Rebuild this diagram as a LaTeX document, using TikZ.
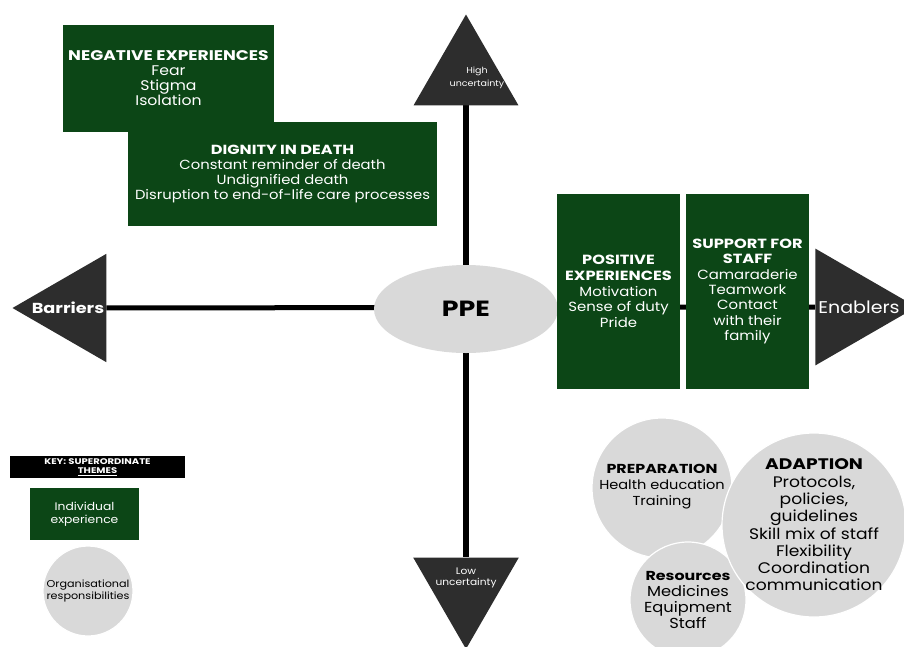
\documentclass[tikz,border=0pt]{standalone}
\usepackage{fontspec}
\setmainfont{Poppins}[FakeStretch=1.12, BoldFeatures={FakeStretch=1.22}]
\usetikzlibrary{positioning, shapes, backgrounds}

\definecolor{themegreen}{RGB}{12,70,22}
\definecolor{darkpointer}{RGB}{45,45,45}
\definecolor{orggray}{RGB}{217,217,217}

\tikzset{
	themebox/.style={rectangle, fill=themegreen, text=white, align=center, inner sep=0pt},
	orgcircle/.style={circle, draw=white, line width=1.2pt, fill=orggray, inner sep=0pt},
	orgtext/.style={text=black, align=center},
	pointer/.style={regular polygon, regular polygon sides=3, fill=darkpointer, inner sep=0pt},
	pointertext/.style={text=white, align=center},
	axisline/.style={line width=5pt, black}
}

\begin{document}
\begin{tikzpicture}[x=1pt, y=-1pt]
		\useasboundingbox (0,0) rectangle (904,646);
		
		%Direction nodes
		\node [pointer, minimum size=121pt, 
		label={[pointertext, font=\fontsize{8.5}{13}\selectfont, xshift=11pt, yshift=-3pt]center:High\\uncertainty}] 
		(high) at (466,75) {};
		
		\node [pointer, minimum size=122pt, shape border rotate=180, 
		label={[pointertext, font=\fontsize{9.5}{11}\selectfont, yshift=10pt]center:Low\\uncertainty}] 
		(low) at (466,588) {};
		
		\node [pointer, minimum size=125pt, shape border rotate=90, 
		label={[pointertext, font=\fontsize{14.5}{16}\selectfont\bfseries, xshift=-7pt]center:Barriers}] 
		(barriers) at (75,308) {};
		
		\node [pointer, minimum size=135pt, shape border rotate=270, 
		label={[pointertext, font=\fontsize{17}{19}\selectfont, xshift=10pt]center:Enablers}] 
		(enablers) at (849,307) {};
		
		\node [ellipse, fill=orggray, minimum width=184pt, minimum height=88pt, 
		font=\fontsize{22}{24}\selectfont\bfseries] (ppe) at (466,309) {PPE};
		
		%Individual experience nodes
		\node [themebox, minimum width=211pt, minimum height=107pt, 
		font=\fontsize{14}{15}\selectfont] (negative) at (168.5,78.5) 
		{\textbf{NEGATIVE EXPERIENCES}\\Fear\\Stigma\\Isolation};
		
		\node [themebox, minimum width=309pt, minimum height=104pt, 
		font=\fontsize{13.2}{14.7}\selectfont] (dignity) at (282.5,174) 
		{\textbf{DIGNITY IN DEATH}\\Constant reminder of death\\Undignified death\\Disruption to end-of-life care processes};
		
		\node [themebox, minimum width=123pt, minimum height=195pt, 
		font=\fontsize{13.3}{15.8}\selectfont] (positive) at (618.5,291.5) 
		{\textbf{POSITIVE}\\\textbf{EXPERIENCES}\\Motivation\\Sense of duty\\Pride};
		
		\node [themebox, minimum width=123pt, minimum height=195pt, 
		font=\fontsize{13.3}{15.3}\selectfont] (support) at (747.5,291.5) 
		{\textbf{SUPPORT FOR}\\\textbf{STAFF}\\Camaraderie\\Teamwork\\Contact\\with their\\family};
		
		%Organisational nodes
		\node [orgcircle, minimum size=140pt, 
		label={[orgtext, font=\fontsize{13}{16}\selectfont, yshift=1pt]center:\textbf{PREPARATION}\\Health education\\Training}] 
		(preparation) at (662,488) {};
		
		\node [orgcircle, minimum size=116pt, 
		label={[orgtext, font=\fontsize{14.5}{16.3}\selectfont]center:{\fontsize{13}{16.3}\selectfont\textbf{Resources}}\\Medicines\\Equipment\\Staff}] 
		(resources) at (688,600) {};
		
		\node [orgcircle, minimum size=184pt, 
		label={[orgtext, font=\fontsize{15.3}{17.3}\selectfont]center:\textbf{ADAPTION}\\Protocols,\\policies,\\guidelines\\Skill mix of staff\\Flexibility\\Coordination\\communication}] 
		(adaption) at (814,525) {};
		
		%Key
		\node [fill=black, text=white, align=center, minimum width=175pt, minimum height=22pt, inner sep=0pt, 
		font=\fontsize{8.2}{9.8}\selectfont\bfseries] (key) at (97.5,467) {KEY: SUPERORDINATE\\\underline{THEMES}};
		
		\node [themebox, minimum width=109pt, minimum height=52pt, 
		font=\fontsize{11}{13.5}\selectfont] (individual) at (84.5,514) {Individual\\experience};
		
		\node [orgcircle, minimum size=90pt, 
		label={[orgtext, font=\fontsize{10}{11.5}\selectfont]center:Organisational\\responsibilities}] 
		(organisational) at (88,591) {};
		
		%Links
		\begin{scope}[on background layer]
		\path [draw, axisline] (barriers) -- (enablers);
		\path [draw, axisline, line width=6pt] (high) -- (low);
		\end{scope}
		
		\end{tikzpicture}
\end{document}
